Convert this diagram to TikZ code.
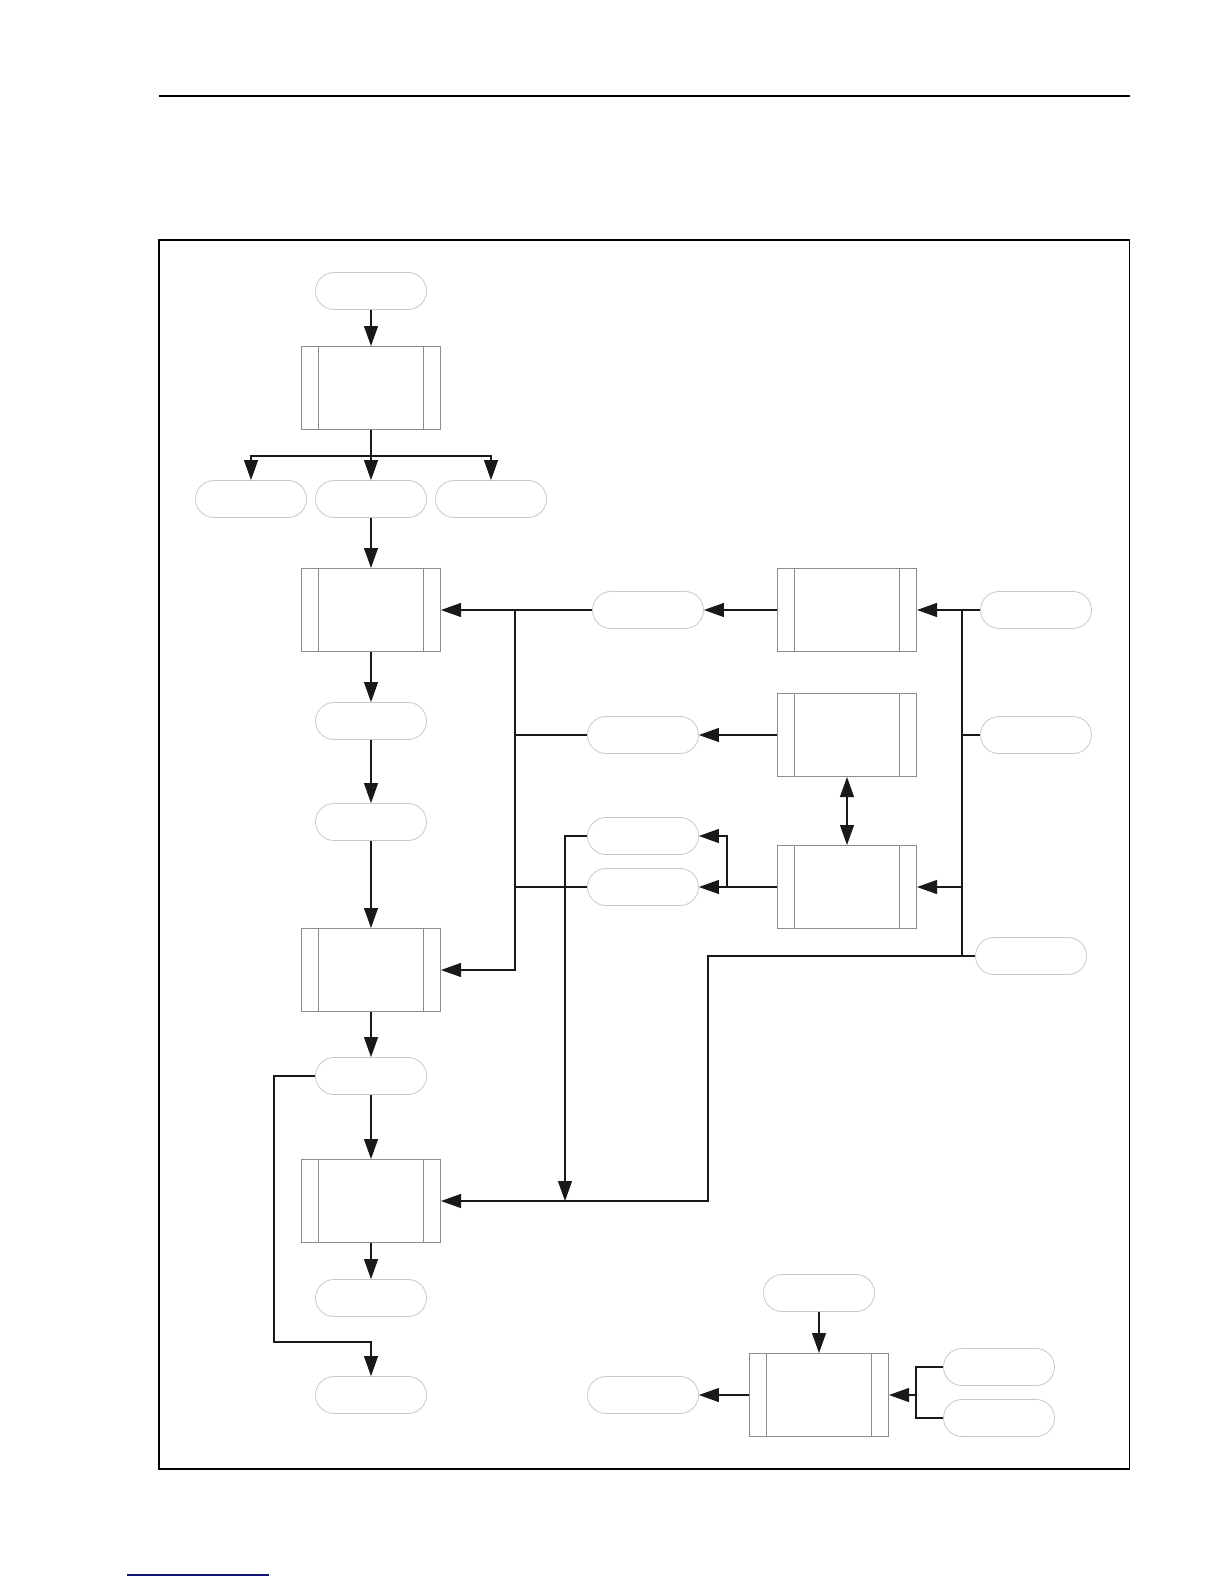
\documentclass[tikz,border=0pt]{standalone}
\usetikzlibrary{arrows.meta,shapes.misc}
\definecolor{boxgray}{RGB}{140,140,140}
\definecolor{termgray}{RGB}{200,200,200}
\definecolor{linkblue}{RGB}{20,20,120}
\tikzset{
  term/.style={rounded rectangle, draw=termgray, line width=0.8pt, minimum width=111pt, minimum height=37pt, inner sep=0pt},
  proc/.style={rectangle, draw=boxgray, line width=1pt, minimum width=139pt, minimum height=83pt, inner sep=0pt,
    path picture={\draw[boxgray, line width=1pt]
      ([xshift=17pt]path picture bounding box.north west) -- ([xshift=17pt]path picture bounding box.south west)
      ([xshift=-17pt]path picture bounding box.north east) -- ([xshift=-17pt]path picture bounding box.south east);}},
  conn/.style={draw=black!90, line width=1.1pt},
}
\begin{document}
\begin{tikzpicture}[x=1pt, y=-1pt, >={Triangle[length=20pt,width=14pt]}]
    \useasboundingbox (0,0) rectangle (1224,1584);
    \draw[line width=1.3pt] (159,96) -- (1129.5,96);
    \draw[line width=1.4pt] (159,240) rectangle (1129.5,1469);
    \draw[linkblue, line width=1.3pt] (127,1575) -- (269,1575);
    % left column
    \node[term] (start) at (371,291) {};
    \node[proc] (init) at (371,388) {};
    \foreach \n/\x in {t1/251,t2/371,t3/491} \node[term] (\n) at (\x,499) {};
    \node[proc] (box2) at (371,610) {};
    \node[term] (t5) at (371,721) {};
    \node[term] (t6) at (371,822) {};
    \node[proc] (box3) at (371,970) {};
    \node[term] (t7) at (371,1076) {};
    \node[proc] (box4) at (371,1201) {};
    \node[term] (t8) at (371,1298) {};
    \node[term] (t9) at (371,1395) {};
    % middle and right columns
    \node[term] (ta) at (648,610) {};
    \node[term] (tb) at (643,735) {};
    \node[term] (tc) at (643,836) {};
    \node[term] (td) at (643,887) {};
    \node[proc] (r1) at (847,610) {};
    \node[proc] (r2) at (847,735) {};
    \node[proc] (r3) at (847,887) {};
    \node[term] (s1) at (1036,610) {};
    \node[term] (s2) at (1036,735) {};
    \node[term] (s3) at (1031,956) {};
    % bottom group
    \node[term] (t11) at (819,1293) {};
    \node[proc] (bx) at (819,1395) {};
    \node[term] (t10) at (643,1395) {};
    \node[term] (t12) at (999,1367) {};
    \node[term] (t13) at (999,1418) {};
    \coordinate (split) at (371,456);
    \coordinate (busl) at (515,970);
    \coordinate (busr) at (962,956);
    \coordinate (loop) at (274,1342);
    \coordinate (drop) at (565,1201);
    \coordinate (jog) at (708,1201);
    \coordinate (fork) at (916,1395);
    % connectors
    \draw[conn,->] (start) -- (init);
    \draw[conn,->] (init) -- (t2);
    \draw[conn,->] (split) -| (t1.north);
    \draw[conn,->] (split) -| (t3.north);
    \foreach \a/\b in {t2/box2,box2/t5,t5/t6,t6/box3,box3/t7,t7/box4,box4/t8} \draw[conn,->] (\a) -- (\b);
    \draw[conn,->] (t7.west) -| (loop) -| (t9.north);
    \draw[conn,->] (ta.west) -- (box2.east);
    \draw[conn,->] (busl |- ta.west) -- (busl) -- (box3.east);
    \draw[conn] (tb.west) -- (busl |- tb.west);
    \draw[conn] (td.west) -- (busl |- td.west);
    \draw[conn,->] (r1.west) -- (ta.east);
    \draw[conn,->] (r2.west) -- (tb.east);
    \draw[conn,->] (r3.west) -- (td.east);
    \draw[conn,->] (r3.west -| 727,0) |- (tc.east);
    \draw[conn,<->] (r2.south) -- (r3.north);
    \draw[conn,->] (s1.west) -- (r1.east);
    \draw[conn] (busr |- s1.west) -- (busr) -- (s3.west);
    \draw[conn] (s2.west) -- (busr |- s2.west);
    \draw[conn,->] (busr |- r3.east) -- (r3.east);
    \draw[conn,->] (busr) -| (jog) -- (box4.east);
    \draw[conn,->] (tc.west) -| (drop);
    \draw[conn,->] (t11) -- (bx);
    \draw[conn,->] (bx.west) -- (t10.east);
    \draw[conn,->] (t12.west) -| (fork) -- (bx.east);
    \draw[conn] (t13.west) -| (fork);
\end{tikzpicture}
\end{document}
